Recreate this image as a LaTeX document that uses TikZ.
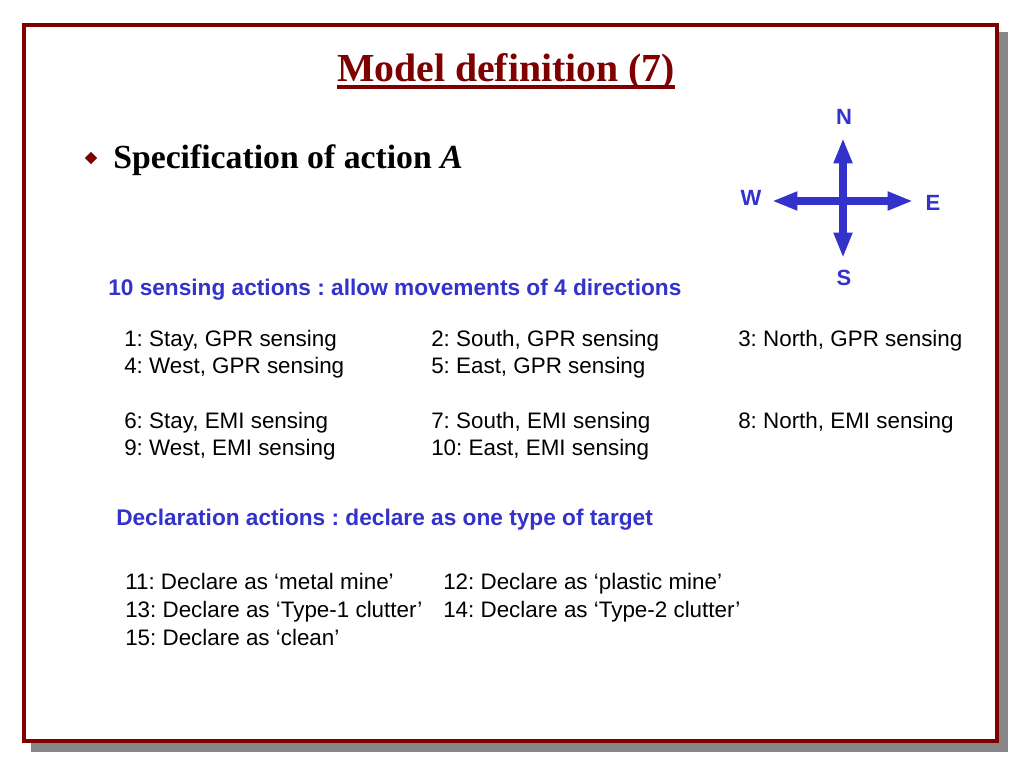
\documentclass[tikz,border=0pt]{standalone}
\usepackage{fontspec}
\usepackage{tikz}
\usetikzlibrary{shapes.geometric,positioning,calc,arrows.meta}
\newfontfamily\arialfont{Liberation Sans}
\newfontfamily\timesfont{Liberation Serif}
\definecolor{frameRed}{HTML}{7F0000}
\definecolor{headBlue}{HTML}{3333CC}
\frenchspacing

\begin{document}
\begin{tikzpicture}
  [x=0.75pt,y=-0.75pt,
   itemT/.style={anchor=base west,inner sep=0pt,font=\arialfont\fontsize{16.8}{20}\selectfont},
   headT/.style={anchor=base west,inner sep=0pt,text=headBlue,font=\arialfont\bfseries\fontsize{17}{20}\selectfont},
   dirT/.style={inner sep=0pt,text=headBlue,font=\arialfont\bfseries\fontsize{16.5}{20}\selectfont},
   dirA/.style={draw=headBlue,line width=6.6pt,-{Triangle[length=19pt,width=13pt]}}]

  \useasboundingbox (0,0) rectangle (1024,768);

  % frame with shadow
  \fill[gray!95] (31,32) rectangle (1008,752);
  \fill[white] (24,25) rectangle (997,741);
  \draw[frameRed,line width=3pt] (24,25) rectangle (997,741);

  % title
  \node[anchor=base,inner sep=0pt,text=frameRed,font=\timesfont\bfseries\fontsize{29.8}{34}\selectfont]
    (title) at (506,81) {Model definition (7)};
  \draw[frameRed,line width=2.3pt] ($(title.base west)+(0,6)$) -- ($(title.base east)+(0,6)$);

  % bullet
  \node[diamond,fill=frameRed,inner sep=0pt,minimum size=9.5pt] (dot) at (91,158) {};
  \node[anchor=base west,inner sep=0pt,font=\timesfont\bfseries\fontsize{25.3}{30}\selectfont]
    (spec) at (113,168) {Specification of action \textit{A}};

  % compass
  \coordinate (mid)  at (843,201);
  \coordinate (nTip) at (843,138);
  \coordinate (sTip) at (843,258);
  \coordinate (wTip) at (772,201);
  \coordinate (eTip) at (913,201);
  \draw[dirA] (mid) -- (nTip);
  \draw[dirA] (mid) -- (sTip);
  \draw[dirA] (mid) -- (wTip);
  \draw[dirA] (mid) -- (eTip);
  \node[dirT] (N) at (844,117) {N};
  \node[dirT] (S) at (844,278) {S};
  \node[dirT] (W) at (751,198) {W};
  \node[dirT] (E) at (933,203) {E};

  % sensing actions
  \node[headT] (sense) at (108,295) {10 sensing actions : allow movements of 4 directions};

  \node[itemT] (a1)  at (124,346) {1: Stay, GPR sensing};
  \node[itemT] (a2)  at (431,346) {2: South, GPR sensing};
  \node[itemT] (a3)  at (738,346) {3: North, GPR sensing};
  \node[itemT] (a4)  at (124,373) {4: West, GPR sensing};
  \node[itemT] (a5)  at (431,373) {5: East, GPR sensing};

  \node[itemT] (a6)  at (124,428) {6: Stay, EMI sensing};
  \node[itemT] (a7)  at (431,428) {7: South, EMI sensing};
  \node[itemT] (a8)  at (738,428) {8: North, EMI sensing};
  \node[itemT] (a9)  at (124,455) {9: West, EMI sensing};
  \node[itemT] (a10) at (431,455) {10: East, EMI sensing};

  % declaration actions
  \node[headT] (decl) at (116,525) {Declaration actions : declare as one type of target};

  \node[itemT] (a11) at (125,589) {11: Declare as ‘metal mine’};
  \node[itemT] (a12) at (443,589) {12: Declare as ‘plastic mine’};
  \node[itemT] (a13) at (125,617) {13: Declare as ‘Type-1 clutter’};
  \node[itemT] (a14) at (443,617) {14: Declare as ‘Type-2 clutter’};
  \node[itemT] (a15) at (125,645) {15: Declare as ‘clean’};
\end{tikzpicture}
\end{document}
